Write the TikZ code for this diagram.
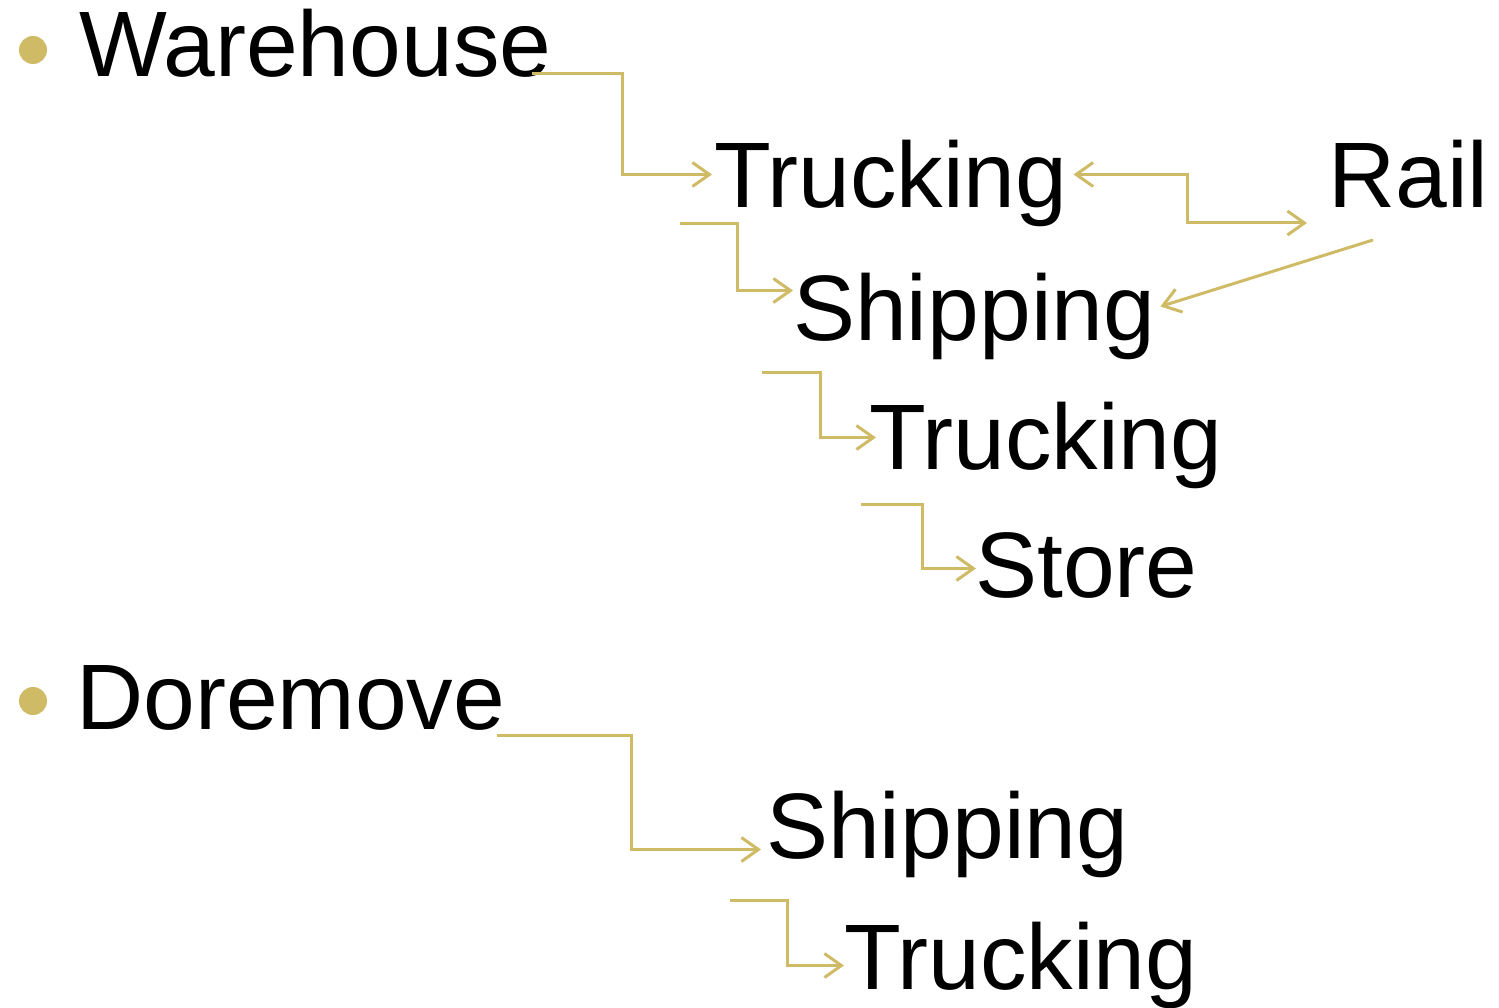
\documentclass[tikz,border=0pt]{standalone}
\usepackage{fontspec}
\setmainfont{Liberation Sans}
\usetikzlibrary{arrows.meta}
\definecolor{gold}{RGB}{207,186,102}
\begin{document}
\begin{tikzpicture}[x=1pt, y=-1pt,
    item/.style={anchor=base west, inner sep=0pt, text height=67pt, text depth=0pt,
      font=\fontsize{93}{93}\selectfont},
    link/.style={draw=gold, line width=3pt,
      -{Straight Barb[length=17pt,width=24pt]}}]
  \useasboundingbox (0,0) rectangle (1499,1008);
  \fill[gold] (33,50) circle (14pt);
  \fill[gold] (33,701) circle (14pt);
  \node[item] (wh) at (79,77) {Warehouse};
  \node[item] (tk1) at (714,208) {Trucking};
  \node[item] (rail) at (1328,208) {Rail};
  \node[item] (sh1) at (793,340) {Shipping};
  \node[item] (tk2) at (869,469) {Trucking};
  \node[item] (store) at (975,597) {Store};
  \node[item] (dor) at (76,729) {Doremove};
  \node[item] (sh2) at (766,858) {Shipping};
  \node[item] (tk3) at (844,989) {Trucking};
  \coordinate (whout) at (532,74);
  \coordinate (tk1out) at (680,224);
  \coordinate (railin) at (1307,223);
  \coordinate (railout) at (1373,240);
  \coordinate (sh1out) at (762,372);
  \coordinate (tk2out) at (861,504);
  \coordinate (dorout) at (497,735);
  \coordinate (sh2out) at (730,900);
  \draw[link] (whout) -- ++(90,0) |- ([xshift=-2pt]tk1.west);
  \draw[link, {Straight Barb[length=17pt,width=24pt]}-{Straight Barb[length=17pt,width=24pt]}]
    ([xshift=6pt]tk1.east) -- ++(114,0) |- (railin);
  \draw[link] (railout) -- ([xshift=5pt]sh1.east);
  \draw[link] (tk1out) -- ++(57,0) |- ([yshift=16pt]sh1.west);
  \draw[link] (sh1out) -- ++(58,0) |- ([xshift=7pt,yshift=-2pt]tk2.west);
  \draw[link] (tk2out) -- ++(61,0) |- ([xshift=1pt,yshift=-5pt]store.west);
  \draw[link] (dorout) -- ++(134,0) |- ([xshift=-5pt,yshift=-25pt]sh2.west);
  \draw[link] (sh2out) -- ++(57,0) |- ([yshift=-10pt]tk3.west);
\end{tikzpicture}
\end{document}
